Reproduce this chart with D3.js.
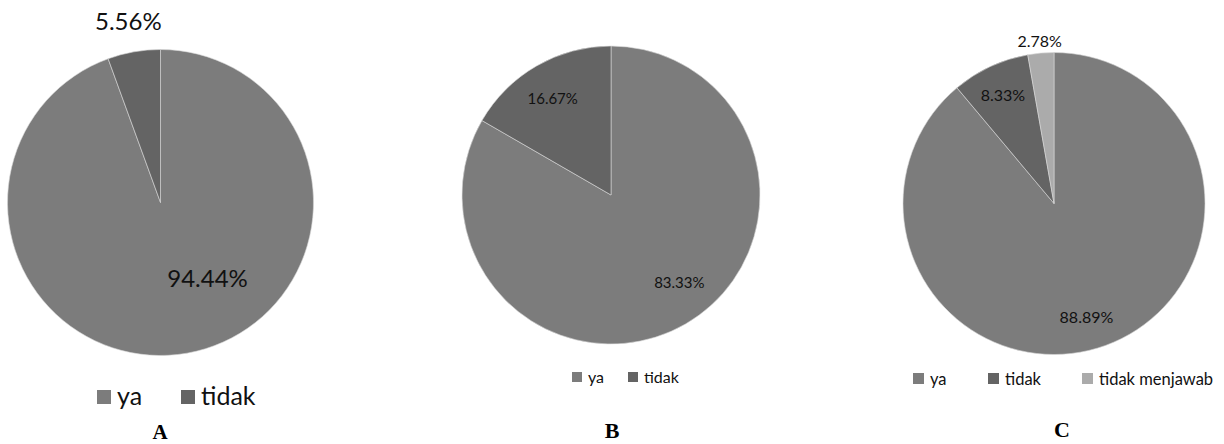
<!DOCTYPE html>
<html>
<head>
<meta charset="utf-8">
<script src="https://cdn.jsdelivr.net/npm/d3@7"></script>
<style>
  body { margin: 0; background: #fff; }
  svg { display: block; }
</style>
</head>
<body>
<svg id="chart" width="1224" height="444"></svg>
<script>
// data
var kategoriA = ["ya", "tidak"];
var nilaiA = [94.44, 5.56];
var kategoriB = ["ya", "tidak"];
var nilaiB = [83.33, 16.67];
var kategoriC = ["ya", "tidak", "tidak menjawab"];
var nilaiC = [88.89, 8.33, 2.78];
var judul = ["A", "B", "C"];
var warna = ["#7c7c7c", "#646464", "#ababab"];

// layout for each of the three pies
var panels = [
    {kat: kategoriA, val: nilaiA, cx: 160.5, cy: 202.5, r: 153, fs: 24,
     lab: [{f: 0.58, s: -22}, {f: 1.21, s: 0}],
     legY: 405, legFs: 25, sq: 14, legX: [97, 181], capX: 160, capY: 439, capFs: 21},
    {kat: kategoriB, val: nilaiB, cx: 611, cy: 195, r: 149, fs: 15,
     lab: [{f: 0.745, s: -8}, {f: 0.76, s: -1}],
     legY: 383, legFs: 16, sq: 10, legX: [572, 628], capX: 612, capY: 438, capFs: 22},
    {kat: kategoriC, val: nilaiC, cx: 1054, cy: 203.5, r: 151, fs: 16,
     lab: [{f: 0.78, s: 4}, {f: 0.8, s: 0}, {f: 1.085, s: 0}],
     legY: 385, legFs: 16.5, sq: 11, legX: [913, 988, 1082], capX: 1062, capY: 437, capFs: 22}
];

var svg = d3.select("#chart");
var pie = d3.pie().sort(null).value(function(d){ return d; });

var drawPanel = function(p, i)
{
    var g = svg.append("g").attr("transform", "translate(" + p.cx + "," + p.cy + ")");
    var arc = d3.arc().innerRadius(0).outerRadius(p.r);
    var arcs = pie(p.val);

    g.selectAll("path").data(arcs).enter().append("path")
        .attr("d", arc)
        .attr("fill", function(d, j){ return warna[j]; })
        .attr("stroke", "#d8d8d8")
        .attr("stroke-width", 0.6);

    g.selectAll("text").data(arcs).enter().append("text")
        .attr("x", function(d, j){
            var a = (d.startAngle + d.endAngle) / 2 + p.lab[j].s * Math.PI / 180;
            return Math.sin(a) * p.r * p.lab[j].f;
        })
        .attr("y", function(d, j){
            var a = (d.startAngle + d.endAngle) / 2 + p.lab[j].s * Math.PI / 180;
            return -Math.cos(a) * p.r * p.lab[j].f;
        })
        .attr("text-anchor", "middle")
        .attr("dominant-baseline", "central")
        .attr("font-family", "Lato, 'Open Sans', sans-serif")
        .attr("font-size", p.fs)
        .attr("fill", "#111")
        .text(function(d){ return d.data.toFixed(2) + "%"; });

    // legend
    var leg = svg.append("g");
    p.kat.forEach(function(k, j){
        leg.append("rect")
            .attr("x", p.legX[j])
            .attr("y", p.legY - p.sq - 1)
            .attr("width", p.sq)
            .attr("height", p.sq)
            .attr("fill", warna[j]);
        leg.append("text")
            .attr("x", p.legX[j] + p.sq + 6)
            .attr("y", p.legY)
            .attr("font-family", "Lato, 'Open Sans', sans-serif")
            .attr("font-size", p.legFs)
            .attr("fill", "#111")
            .text(k);
    });

    svg.append("text")
        .attr("x", p.capX)
        .attr("y", p.capY)
        .attr("text-anchor", "middle")
        .attr("font-family", "'Liberation Serif', 'Times New Roman', serif")
        .attr("font-weight", "bold")
        .attr("font-size", p.capFs)
        .attr("fill", "#000")
        .text(judul[i]);
};

panels.forEach(drawPanel);
</script>
</body>
</html>
